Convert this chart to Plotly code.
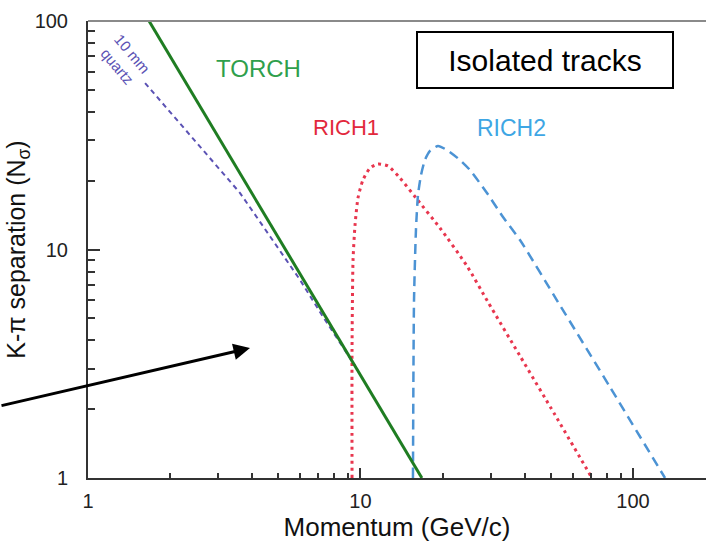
import plotly.graph_objects as go

# ---- data ----
torch_p = [1.675, 16.8]
torch_n = [100.0, 1.0]

quartz_p = [1.62, 2.37, 3.61, 4.66, 6.0, 7.29, 8.63, 9.55]
quartz_n = [53.5, 31.7, 17.7, 11.4, 7.36, 5.07, 3.74, 3.1]

rich1_p = [9.31, 9.31, 9.39, 9.55, 9.79, 10.21, 10.84, 11.59, 12.62, 13.96,
           15.98, 19.57, 24.59, 29.37, 38.49, 51.73, 70.7]
rich1_n = [1.0, 3.63, 9.0, 12.8, 16.8, 20.15, 22.74, 23.67, 23.2, 20.56,
           16.81, 12.42, 8.47, 5.89, 3.42, 1.89, 1.0]

rich2_p = [15.58, 15.72, 15.98, 16.26, 16.68, 17.24, 17.99, 19.25, 20.77, 23.18,
           25.22, 29.12, 33.34, 38.49, 53.06, 82.35, 131.1]
rich2_n = [1.0, 6.01, 12.17, 17.32, 21.18, 24.64, 27.0, 28.38, 27.25, 24.64,
           22.28, 17.67, 13.87, 11.0, 5.89, 2.50, 1.0]

x_ticks = [1, 10, 100]
x_ticklabels = ["1", "10", "100"]
x_minor = [2, 3, 4, 5, 6, 7, 8, 9, 20, 30, 40, 50, 60, 70, 80, 90]
y_ticks = [1, 10, 100]
y_ticklabels = ["1", "10", "100"]
y_minor = [2, 3, 4, 5, 6, 7, 8, 9, 20, 30, 40, 50, 60, 70, 80, 90]

FONT = "Liberation Sans, Arial, sans-serif"
AXC = "#333333"
X_RANGE = [0, 2.268]
Y_RANGE = [0, 2]

fig = go.Figure()
fig.add_trace(go.Scatter(x=quartz_p, y=quartz_n, mode="lines",
                         line=dict(color="#5b52b4", width=2, dash="5px,4px"),
                         showlegend=False, hoverinfo="skip"))
fig.add_trace(go.Scatter(x=rich1_p, y=rich1_n, mode="lines",
                         line=dict(color="#e8364e", width=3, dash="3px,4px",
                                   shape="spline", smoothing=0.6),
                         showlegend=False, hoverinfo="skip"))
fig.add_trace(go.Scatter(x=rich2_p, y=rich2_n, mode="lines",
                         line=dict(color="#4c93d4", width=2.5, dash="10px,6px",
                                   shape="spline", smoothing=0.6),
                         showlegend=False, hoverinfo="skip"))
fig.add_trace(go.Scatter(x=torch_p, y=torch_n, mode="lines",
                         line=dict(color="#1f7d22", width=3),
                         showlegend=False, hoverinfo="skip"))
# invisible trace bound to the overlay axes that carry the minor ticks
fig.add_trace(go.Scatter(x=x_minor[:2], y=y_minor[:2], xaxis="x2", yaxis="y2",
                         mode="markers", marker=dict(opacity=0),
                         showlegend=False, hoverinfo="skip"))

tickfont = dict(family=FONT, size=20, color="#222")

fig.update_layout(
    xaxis=dict(type="log", range=X_RANGE, tickmode="array",
               tickvals=x_ticks, ticktext=x_ticklabels, ticklabelstandoff=4,
               showgrid=False, zeroline=False, showline=True, linecolor=AXC, linewidth=2,
               ticks="inside", ticklen=10, tickwidth=2, tickcolor=AXC, tickfont=tickfont,
               title=dict(text="Momentum (GeV/c)",
                          font=dict(family=FONT, size=26, color="#111"), standoff=2)),
    yaxis=dict(type="log", range=Y_RANGE, tickmode="array",
               tickvals=y_ticks, ticktext=y_ticklabels, ticklabelstandoff=14,
               showgrid=False, zeroline=False, showline=True, linecolor=AXC, linewidth=2,
               ticks="inside", ticklen=12, tickwidth=2, tickcolor=AXC, tickfont=tickfont,
               title=dict(text="K-π separation (N<sub>σ</sub>)",
                          font=dict(family=FONT, size=25, color="#111"), standoff=2)),
    xaxis2=dict(type="log", range=X_RANGE, overlaying="x", anchor="y", side="bottom",
                tickmode="array", tickvals=x_minor, showticklabels=False,
                ticks="inside", ticklen=5, tickwidth=2, tickcolor=AXC,
                showline=False, showgrid=False, zeroline=False),
    yaxis2=dict(type="log", range=Y_RANGE, overlaying="y", anchor="x", side="left",
                tickmode="array", tickvals=y_minor, showticklabels=False,
                ticks="inside", ticklen=7, tickwidth=2, tickcolor=AXC,
                showline=False, showgrid=False, zeroline=False),
)

fig.add_shape(type="line", xref="paper", yref="paper", x0=0, x1=1, y0=1, y1=1,
              line=dict(color="#8a8a8a", width=2))

annotations = [
    dict(x=0.624, y=1.794, text="TORCH", font=dict(family=FONT, size=24, color="#2f9f4c")),
    dict(x=0.947, y=1.532, text="RICH1", font=dict(family=FONT, size=22, color="#e2283c")),
    dict(x=1.556, y=1.532, text="RICH2", font=dict(family=FONT, size=23, color="#3ea6e4")),
    dict(x=0.136, y=1.829, text="10 mm<br>quartz", textangle=50,
         font=dict(family=FONT, size=15, color="#5b52b4")),
    dict(x=0.7395, y=0.9147, xref="paper", yref="paper", text="Isolated tracks",
         font=dict(family=FONT, size=30, color="#000"),
         width=254, height=54, bordercolor="#000", borderwidth=2, borderpad=0,
         bgcolor="#fff"),
]
for a in annotations:
    a.setdefault("xref", "x")
    a.setdefault("yref", "y")
    a.setdefault("showarrow", False)
    a.setdefault("xanchor", "center")
    a.setdefault("yanchor", "middle")
    fig.add_annotation(**a)

fig.add_annotation(x=0.5945, y=0.569, xref="x", yref="y", ax=-250, ay=58,
                   showarrow=True, arrowhead=2, arrowsize=1.1, arrowwidth=3,
                   arrowcolor="#000", text="")

fig.update_layout(width=706, height=545, margin=dict(l=88, r=0, t=21, b=67),
                  plot_bgcolor="white", paper_bgcolor="white",
                  font=dict(family=FONT))

fig.write_html("out.html")
